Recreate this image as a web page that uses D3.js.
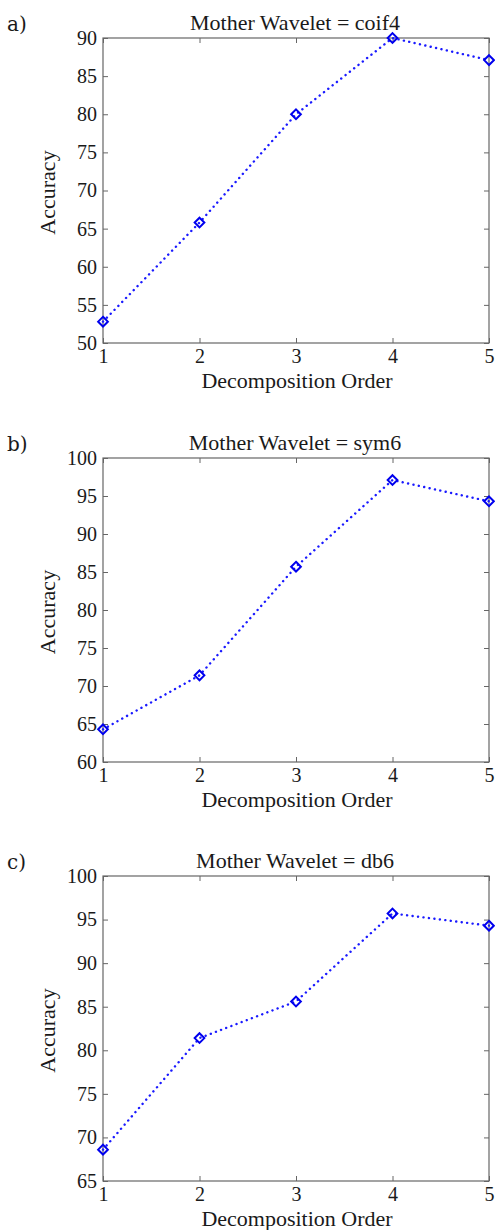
<!DOCTYPE html>
<html>
<head>
<meta charset="utf-8">
<script src="https://cdn.jsdelivr.net/npm/d3@7"></script>
<style>
  html, body { margin: 0; padding: 0; background: #fff; }
  svg { display: block; }
</style>
</head>
<body>
<svg id="chart" width="495" height="1230"></svg>
<script>
// ---- data ----
const categories = [1, 2, 3, 4, 5];
const coif4 = [52.8, 65.8, 80.0, 90.0, 87.1];
const sym6 = [64.3, 71.4, 85.7, 97.1, 94.3];
const db6 = [68.6, 81.4, 85.6, 95.7, 94.3];
const panelLetters = ["a)", "b)", "c)"];
const titles = ["Mother Wavelet = coif4", "Mother Wavelet = sym6", "Mother Wavelet = db6"];
const yTicksA = [50, 55, 60, 65, 70, 75, 80, 85, 90];
const yTicksB = [60, 65, 70, 75, 80, 85, 90, 95, 100];
const yTicksC = [65, 70, 75, 80, 85, 90, 95, 100];
const xLabel = "Decomposition Order";
const yLabel = "Accuracy";

// ---- layout ----
const svg = d3.select("#chart");
const left = 103, right = 489;
const panels = [
  { series: coif4, ticks: yTicksA, top: 38, bottom: 343 },
  { series: sym6, ticks: yTicksB, top: 458, bottom: 762 },
  { series: db6, ticks: yTicksC, top: 876, bottom: 1181 }
];
const axisColor = "#666";
const textColor = "#1a1a1a";
const serif = "'Liberation Serif', 'Times New Roman', Times, serif";

panels.forEach((p, i) => {
  const x = d3.scaleLinear().domain([1, 5]).range([left, right]);
  const y = d3.scaleLinear().domain([p.ticks[0], p.ticks[p.ticks.length - 1]]).range([p.bottom, p.top]);
  const g = svg.append("g");

  const ax = g.append("g").attr("transform", `translate(${left},0)`)
    .call(d3.axisLeft(y).tickValues(p.ticks).tickSizeInner(-5).tickSizeOuter(0).tickPadding(6).tickFormat(d3.format("d")));
  const ar = g.append("g").attr("transform", `translate(${right},0)`)
    .call(d3.axisRight(y).tickValues(p.ticks).tickSizeInner(-5).tickSizeOuter(0).tickFormat(""));
  const ab = g.append("g").attr("transform", `translate(0,${p.bottom})`)
    .call(d3.axisBottom(x).tickValues(categories).tickSizeInner(-5).tickSizeOuter(0).tickPadding(4).tickFormat(d3.format("d")));
  const at = g.append("g").attr("transform", `translate(0,${p.top})`)
    .call(d3.axisTop(x).tickValues(categories).tickSizeInner(-5).tickSizeOuter(0).tickFormat(""));

  [ax, ar, ab, at].forEach(a => {
    a.select(".domain").remove();
    a.selectAll("line").attr("stroke", axisColor).attr("stroke-width", 1);
    a.selectAll("text").attr("fill", textColor).style("font-family", serif).style("font-size", "20px");
  });
  ab.selectAll("text").attr("dy", "0.8em");

  g.append("rect").attr("x", left).attr("y", p.top)
    .attr("width", right - left).attr("height", p.bottom - p.top)
    .attr("fill", "none").attr("stroke", axisColor).attr("stroke-width", 1.2);

  g.append("text").attr("x", (left + right) / 2 - 1).attr("y", p.top - 8)
    .attr("text-anchor", "middle").attr("fill", textColor)
    .style("font-family", serif).style("font-size", "22px").text(titles[i]);

  g.append("text").attr("x", 7).attr("y", p.top - 7)
    .attr("fill", textColor).style("font-family", "'DejaVu Serif', serif").style("font-size", "20px")
    .text(panelLetters[i]);

  g.append("text").attr("x", (left + right) / 2 + 1).attr("y", p.bottom + 45)
    .attr("text-anchor", "middle").attr("fill", textColor)
    .style("font-family", serif).style("font-size", "22px").text(xLabel);

  g.append("text")
    .attr("transform", `translate(55,${(p.top + p.bottom) / 2 + 2}) rotate(-90)`)
    .attr("text-anchor", "middle").attr("fill", textColor)
    .style("font-family", serif).style("font-size", "22px").text(yLabel);

  const line = d3.line().x((d, j) => x(categories[j])).y(d => y(d));
  g.append("path").datum(p.series).attr("d", line)
    .attr("fill", "none").attr("stroke", "#1a1aff").attr("stroke-width", 2.4)
    .attr("stroke-dasharray", "0.1 5.4").attr("stroke-linecap", "round");

  const diamond = d3.symbol().type(d3.symbolDiamond2).size(60);
  g.selectAll("path.mk").data(p.series).enter().append("path").attr("class", "mk")
    .attr("d", diamond)
    .attr("transform", (d, j) => `translate(${x(categories[j])},${y(d)})`)
    .attr("fill", "none").attr("stroke", "#0000ee").attr("stroke-width", 2);
});
</script>
</body>
</html>
